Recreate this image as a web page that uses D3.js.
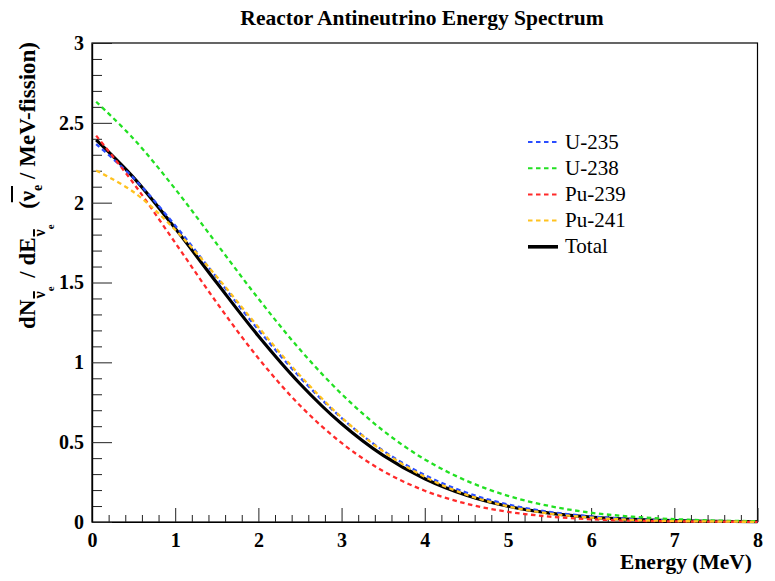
<!DOCTYPE html>
<html>
<head>
<meta charset="utf-8">
<script src="https://cdn.jsdelivr.net/npm/d3@7/dist/d3.min.js"></script>
<style>
  html, body { margin: 0; padding: 0; background: #ffffff; }
  svg { display: block; }
</style>
</head>
<body>
<script>
// Antineutrino energies (MeV) at which each spectrum is tabulated
const energy = [0.05, 0.5, 1, 1.5, 2, 2.5, 3, 3.5, 4, 4.5, 5, 5.5, 6, 6.5, 7, 7.5, 8];

// dN/dE per fission for each fissioning isotope
const u235  = [2.367, 2.154, 1.857, 1.530, 1.204, 0.906, 0.651, 0.447, 0.294, 0.184, 0.110, 0.063, 0.035, 0.018, 0.009, 0.004, 0.002];
const u238  = [2.632, 2.400, 2.086, 1.742, 1.399, 1.080, 0.802, 0.572, 0.392, 0.259, 0.164, 0.100, 0.058, 0.033, 0.018, 0.009, 0.005];
const pu239 = [2.420, 2.121, 1.749, 1.373, 1.026, 0.730, 0.495, 0.319, 0.196, 0.115, 0.064, 0.034, 0.017, 0.008, 0.004, 0.002, 0.001];
const pu241 = [2.201, 2.067, 1.830, 1.536, 1.220, 0.918, 0.655, 0.442, 0.283, 0.171, 0.098, 0.053, 0.028, 0.013, 0.006, 0.003, 0.001];
const total = [2.393, 2.157, 1.839, 1.498, 1.165, 0.866, 0.615, 0.417, 0.271, 0.168, 0.099, 0.056, 0.031, 0.016, 0.008, 0.004, 0.002];

const seriesNames = ["U-235", "U-238", "Pu-239", "Pu-241", "Total"];

// Axis ticks and labels
const xMajorTicks = [0, 1, 2, 3, 4, 5, 6, 7, 8];
const xTickLabels = ["0", "1", "2", "3", "4", "5", "6", "7", "8"];
const yMajorTicks = [0, 0.5, 1, 1.5, 2, 2.5, 3];
const yTickLabels = ["0", "0.5", "1", "1.5", "2", "2.5", "3"];

const W = 775, H = 581;
const SERIF = "'Liberation Serif', 'Times New Roman', Times, serif";

const svg = d3.select("body").append("svg")
  .attr("width", W).attr("height", H)
  .attr("viewBox", `0 0 ${W} ${H}`);

const x = d3.scaleLinear().domain([0, 8]).range([92, 757.5]);
const y = d3.scaleLinear().domain([0, 3]).range([522, 43]);

// Frame
svg.append("rect")
  .attr("x", x(0)).attr("y", y(3))
  .attr("width", x(8) - x(0)).attr("height", y(0) - y(3))
  .attr("fill", "none").attr("stroke", "#000").attr("stroke-width", 1.2);

// Minor ticks
const xMinor = d3.range(0, 8.001, 0.2).filter(v => Math.abs(v - Math.round(v)) > 1e-6);
const yMinor = d3.range(0, 3.001, 0.1).filter(v => Math.abs(v * 2 - Math.round(v * 2)) > 1e-6);

const xMinorAxis = svg.append("g")
  .attr("transform", `translate(0,${y(0)})`)
  .call(d3.axisBottom(x).tickValues(xMinor).tickSize(-7).tickSizeOuter(0).tickFormat(""));
const yMinorAxis = svg.append("g")
  .attr("transform", `translate(${x(0)},0)`)
  .call(d3.axisLeft(y).tickValues(yMinor).tickSize(-10).tickSizeOuter(0).tickFormat(""));

// Major ticks with labels
const xAxis = svg.append("g")
  .attr("transform", `translate(0,${y(0)})`)
  .call(d3.axisBottom(x).tickValues(xMajorTicks).tickSize(-14).tickSizeOuter(0)
    .tickPadding(11).tickFormat((d, i) => xTickLabels[i]));
const yAxis = svg.append("g")
  .attr("transform", `translate(${x(0)},0)`)
  .call(d3.axisLeft(y).tickValues(yMajorTicks).tickSize(-20).tickSizeOuter(0)
    .tickPadding(8).tickFormat((d, i) => yTickLabels[i]));

[xMinorAxis, yMinorAxis, xAxis, yAxis].forEach(g => {
  g.select(".domain").attr("stroke", "#000").attr("stroke-width", 1.2);
  g.selectAll(".tick line").attr("stroke", "#222").attr("stroke-width", 1);
  g.selectAll(".tick text")
    .attr("fill", "#000")
    .style("font-family", SERIF).style("font-weight", "bold").style("font-size", "20px");
});

// Curves
const line = d3.line()
  .x((d, i) => x(energy[i]))
  .y(d => y(d))
  .curve(d3.curveCatmullRom.alpha(0.5));

const styles = {
  "U-235":  { color: "#2a4dff", width: 2.3, dash: "4.5,3.5" },
  "U-238":  { color: "#22e022", width: 2.3, dash: "4.5,3.5" },
  "Pu-239": { color: "#ff2a2a", width: 2.3, dash: "4.5,3.5" },
  "Pu-241": { color: "#ffc21f", width: 2.3, dash: "4.5,3.5" },
  "Total":  { color: "#000000", width: 3.2, dash: null }
};
const seriesData = { "U-235": u235, "U-238": u238, "Pu-239": pu239, "Pu-241": pu241, "Total": total };

// Total first so the isotope dashes sit on top of it
["Total", "U-235", "U-238", "Pu-239", "Pu-241"].forEach(name => {
  const s = styles[name];
  svg.append("path")
    .datum(seriesData[name])
    .attr("d", line)
    .attr("fill", "none")
    .attr("stroke", s.color)
    .attr("stroke-width", s.width)
    .attr("stroke-dasharray", s.dash)
    .attr("stroke-linejoin", "round");
});

// Legend
const legend = svg.append("g");
seriesNames.forEach((name, i) => {
  const s = styles[name];
  const ly = 142 + i * 26.2;
  legend.append("line")
    .attr("x1", 528).attr("x2", 558).attr("y1", ly).attr("y2", ly)
    .attr("stroke", s.color).attr("stroke-width", name === "Total" ? 3.6 : 2)
    .attr("stroke-dasharray", s.dash);
  legend.append("text")
    .attr("x", 565).attr("y", ly + 6.5)
    .style("font-family", SERIF).style("font-size", "21px").attr("fill", "#000")
    .text(name);
});

// Title
svg.append("text")
  .attr("x", 422).attr("y", 25)
  .attr("text-anchor", "middle")
  .style("font-family", SERIF).style("font-weight", "bold").style("font-size", "21.5px")
  .text("Reactor Antineutrino Energy Spectrum");

// X-axis title
svg.append("text")
  .attr("x", 752).attr("y", 569)
  .attr("text-anchor", "end")
  .style("font-family", SERIF).style("font-weight", "bold").style("font-size", "21.5px")
  .text("Energy (MeV)");

// Y-axis title, built piece by piece: dN_{ν̄e} / dE_{ν̄e}  (ν̄e / MeV-fission)
const yTitle = svg.append("g").attr("transform", `translate(35,42) rotate(-90)`);
const pieces = [
  { t: "dN", size: 23, dy: 0 },
  { t: "\u03BD", size: 16, dy: 10, bar: true, gapBefore: 1 },
  { t: "e", size: 11, dy: 19 },
  { t: " / dE", size: 23, dy: 0, gapBefore: 3 },
  { t: "\u03BD", size: 16, dy: 10, bar: true, gapBefore: 1 },
  { t: "e", size: 11, dy: 19 },
  { t: "  (", size: 23, dy: 0, gapBefore: 4 },
  { t: "\u03BD", size: 23, dy: 0, bigBar: true },
  { t: "e", size: 14, dy: 7 },
  { t: " / MeV-fission)", size: 23, dy: 0 }
];
const measure = svg.append("text")
  .style("font-family", SERIF).style("font-weight", "bold")
  .attr("visibility", "hidden");
pieces.forEach(p => {
  measure.style("font-size", p.size + "px").text(p.t.replace(/ /g, "\u00A0"));
  p.w = measure.node().getComputedTextLength();
});
measure.remove();
const totalLen = d3.sum(pieces, p => p.w + (p.gapBefore || 0));
let cursor = -totalLen;
pieces.forEach(p => {
  cursor += (p.gapBefore || 0);
  yTitle.append("text")
    .attr("x", cursor).attr("y", p.dy)
    .style("font-family", SERIF).style("font-weight", "bold").style("font-size", p.size + "px")
    .text(p.t.replace(/ /g, "\u00A0"));
  if (p.bar) {
    yTitle.append("line")
      .attr("x1", cursor).attr("x2", cursor + p.w)
      .attr("y1", p.dy - 11).attr("y2", p.dy - 11)
      .attr("stroke", "#000").attr("stroke-width", 2);
  }
  if (p.bigBar) {
    yTitle.append("line")
      .attr("x1", cursor - 1).attr("x2", cursor + p.w + 5)
      .attr("y1", -23).attr("y2", -23)
      .attr("stroke", "#000").attr("stroke-width", 2);
  }
  cursor += p.w;
});
</script>
</body>
</html>
